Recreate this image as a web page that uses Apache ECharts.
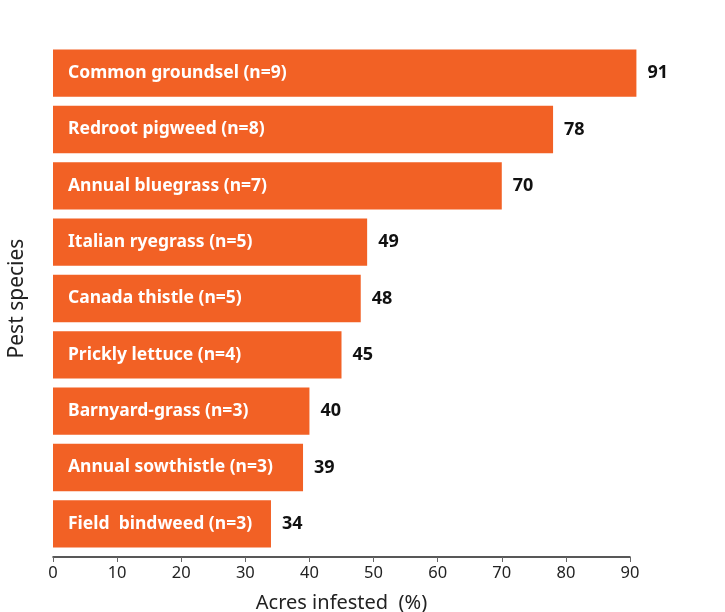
<!DOCTYPE html>
<html>
<head>
<meta charset="utf-8">
<script src="https://cdn.jsdelivr.net/npm/echarts@6/dist/echarts.min.js"></script>
<style>
  html, body { margin: 0; padding: 0; background: #fff; }
  #chart { width: 725px; height: 612px; }
</style>
</head>
<body>
<div id="chart"></div>
<script>
// categories top to bottom
const species = [
  'Common groundsel (n=9)',
  'Redroot pigweed (n=8)',
  'Annual bluegrass (n=7)',
  'Italian ryegrass (n=5)',
  'Canada thistle (n=5)',
  'Prickly lettuce (n=4)',
  'Barnyard-grass (n=3)',
  'Annual sowthistle (n=3)',
  'Field  bindweed (n=3)'
];
const acresInfested = [91, 78, 70, 49, 48, 45, 40, 39, 34];

const barColor = '#f26125';
const font = 'Noto Sans';

const chart = echarts.init(document.getElementById('chart'));

chart.setOption({
  animation: false,
  grid: {
    left: 53,
    right: 95,
    top: 45,
    bottom: 60,
    containLabel: false,
    outerBoundsMode: 'none'
  },
  xAxis: {
    type: 'value',
    min: 0,
    max: 90,
    interval: 10,
    offset: 5,
    name: 'Acres infested  (%)',
    nameLocation: 'middle',
    nameGap: 36,
    nameTextStyle: { fontFamily: font, fontSize: 20, color: '#222' },
    axisLine: { show: true, lineStyle: { color: '#222', width: 1.5 } },
    axisTick: { show: true, length: 5, inside: false, lineStyle: { color: '#666' } },
    axisLabel: { fontFamily: font, fontSize: 16.5, color: '#222', margin: 8 },
    splitLine: { show: false }
  },
  yAxis: {
    type: 'category',
    inverse: true,
    data: species,
    name: 'Pest species',
    nameLocation: 'middle',
    nameGap: 25,
    nameTextStyle: { fontFamily: font, fontSize: 21, color: '#222' },
    axisLine: { show: false },
    axisTick: { show: false },
    axisLabel: { show: false }
  },
  series: [
    {
      type: 'bar',
      data: acresInfested,
      clip: false,
      barCategoryGap: '16%',
      itemStyle: { color: barColor },
      label: {
        show: true,
        position: 'insideLeft',
        distance: 15,
        formatter: p => p.name,
        fontFamily: font,
        fontSize: 17.5,
        fontWeight: 'bold',
        color: '#fff'
      }
    },
    {
      type: 'bar',
      data: acresInfested,
      clip: false,
      barGap: '-100%',
      barCategoryGap: '16%',
      itemStyle: { color: 'rgba(0,0,0,0)' },
      label: {
        show: true,
        position: 'right',
        distance: 11,
        fontFamily: font,
        fontSize: 18,
        fontWeight: 'bold',
        color: '#111'
      }
    }
  ]
});
</script>
</body>
</html>
